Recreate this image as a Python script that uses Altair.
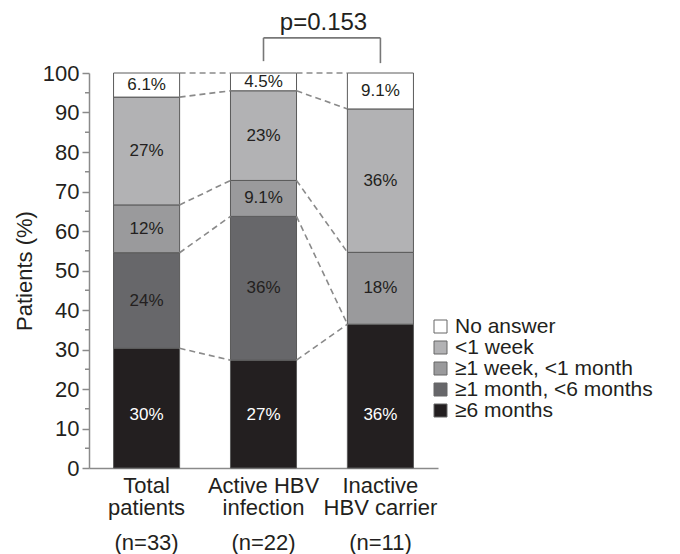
import altair as alt
import pandas as pd

# ---------------- data ----------------
groups = ["Total|patients", "Active HBV|infection", "Inactive|HBV carrier"]
n_labels = ["(n=33)", "(n=22)", "(n=11)"]
categories = ["≥6 months", "≥1 month, <6 months", "≥1 week, <1 month", "<1 week", "No answer"]
legend_order = ["No answer", "<1 week", "≥1 week, <1 month", "≥1 month, <6 months", "≥6 months"]
legend_colors = ["#ffffff", "#b2b2b4", "#9a9a9c", "#67676a", "#231f20"]

total_vals = [30.3, 24.2, 12.1, 27.3, 6.1]
active_vals = [27.3, 36.4, 9.1, 22.7, 4.5]
inactive_vals = [36.4, 0.0, 18.2, 36.3, 9.1]
total_labels = ["30%", "24%", "12%", "27%", "6.1%"]
active_labels = ["27%", "36%", "9.1%", "23%", "4.5%"]
inactive_labels = ["36%", "", "18%", "36%", "9.1%"]
p_text = "p=0.153"

FONT = "Liberation Sans"
DARK = "#231f20"
GRAY = "#8a8a8a"

# ---------------- tables ----------------
rows = []
levels = []
for g, vals, labs in zip(groups, [total_vals, active_vals, inactive_vals],
                         [total_labels, active_labels, inactive_labels]):
    cum = 0.0
    lv = []
    for i, (c, v, l) in enumerate(zip(categories, vals, labs)):
        rows.append(dict(group=g, cat=c, idx=i, val=v, y0=cum, y1=cum + v, label=l,
                         mid=cum + v / 2, tcol="#ffffff" if i == 0 else DARK))
        cum += v
        lv.append(cum)
    levels.append(lv)
bars = pd.DataFrame(rows)
seg = bars[bars.val > 0]
txt = bars[bars.label != ""].copy()
txt["ypos"] = txt.apply(lambda r: min(r.mid, 13.5) if r.idx == 0 else r.mid, axis=1)

links = []
for a in range(len(groups) - 1):
    for k in range(len(categories)):
        links.append(dict(g1=groups[a], g2=groups[a + 1], v1=levels[a][k], v2=levels[a + 1][k]))
links = pd.DataFrame(links)

ndf = pd.DataFrame(dict(group=groups, n=n_labels))
minor = pd.DataFrame(dict(v=list(range(5, 100, 10))))

bracket = pd.DataFrame([
    dict(g1=groups[1], g2=groups[1], v1=103.0, v2=108.9),
    dict(g1=groups[1], g2=groups[2], v1=108.9, v2=108.9),
    dict(g1=groups[2], g2=groups[2], v1=102.5, v2=108.9),
])
pdf = pd.DataFrame(dict(group=[groups[1]], v=[111.0], t=[p_text]))

# ---------------- chart ----------------
xscale = alt.Scale(domain=groups, paddingInner=0.435, paddingOuter=0.21)
yscale = alt.Scale(domain=[0, 100], nice=False)

xaxis = alt.Axis(labelExpr="split(datum.label, '|')", labelAngle=0, ticks=False,
                 labelAlign="center", labelFont=FONT, labelFontSize=22,
                 labelColor=DARK, labelLineHeight=22, labelLimit=300,
                 labelPadding=7, domainColor=GRAY, domainWidth=1.5,
                 labelBaseline="top")
yaxis = alt.Axis(values=list(range(0, 101, 10)), tickSize=7, tickColor=GRAY,
                 domainColor=GRAY, domainWidth=1.5, tickWidth=1.5, grid=False,
                 labelOverlap=False, labelFont=FONT, labelFontSize=22,
                 labelColor=DARK, labelPadding=3,
                 titleFont=FONT, titleFontSize=22, titleFontWeight="normal",
                 titleColor=DARK, titlePadding=6)

bar = alt.Chart(seg).mark_bar(stroke="#5a5a5a", strokeWidth=1).encode(
    x=alt.X("group:N", scale=xscale, sort=groups, title=None, axis=xaxis),
    y=alt.Y("y0:Q", scale=yscale, title="Patients (%)", axis=yaxis),
    y2="y1:Q",
    color=alt.Color("cat:N", scale=alt.Scale(domain=legend_order, range=legend_colors),
                    legend=alt.Legend(title=None, orient="none", legendX=341, legendY=243,
                                      symbolType="square", symbolSize=169,
                                      symbolStrokeColor="#666666", symbolStrokeWidth=1,
                                      labelFont=FONT, labelFontSize=21, labelColor=DARK,
                                      labelLimit=300, labelOffset=4, rowPadding=-1,
                                      symbolOpacity=1)),
)

dash = alt.Chart(links).mark_rule(xOffset=33, x2Offset=-33, strokeDash=[6, 4], color=GRAY,
                                  strokeWidth=1.6).encode(
    x=alt.X("g1:N", scale=xscale, sort=groups, title=None, axis=xaxis), x2="g2:N",
    y=alt.Y("v1:Q", scale=yscale, title="Patients (%)", axis=yaxis), y2="v2:Q")

labels = alt.Chart(txt).mark_text(font=FONT, fontSize=17, baseline="middle").encode(
    x=alt.X("group:N", scale=xscale, sort=groups, title=None, axis=xaxis),
    y=alt.Y("ypos:Q", scale=yscale, title="Patients (%)", axis=yaxis),
    text="label:N",
    color=alt.Color("tcol:N", scale=None))

minor_ticks = alt.Chart(minor).mark_rule(color=GRAY, strokeWidth=1.5).encode(
    y=alt.Y("v:Q", scale=yscale, title="Patients (%)", axis=yaxis),
    x=alt.value(-4), x2=alt.value(0))

nlab = alt.Chart(ndf).mark_text(font=FONT, fontSize=22, color=DARK, baseline="middle").encode(
    x=alt.X("group:N", scale=xscale, sort=groups, title=None, axis=xaxis),
    y=alt.value(470), text="n:N")

brk = alt.Chart(bracket).mark_rule(color="#777777", strokeWidth=1.6).encode(
    x=alt.X("g1:N", scale=xscale, sort=groups, title=None, axis=xaxis), x2="g2:N",
    y=alt.Y("v1:Q", scale=yscale, title="Patients (%)", axis=yaxis), y2="v2:Q")

ptxt = alt.Chart(pdf).mark_text(font=FONT, fontSize=24, color=DARK, baseline="alphabetic",
                                dx=60).encode(
    x=alt.X("group:N", scale=xscale, sort=groups, title=None, axis=xaxis),
    y=alt.Y("v:Q", scale=yscale, title="Patients (%)", axis=yaxis), text="t:N")

chart = alt.layer(bar, dash, labels, minor_ticks, nlab, brk, ptxt).properties(
    width=349, height=395,
    padding={"left": 5, "top": 2, "right": 5, "bottom": 0},
).configure_view(stroke=None)

chart.save("out.html", embed_options={"renderer": "svg", "actions": False})
